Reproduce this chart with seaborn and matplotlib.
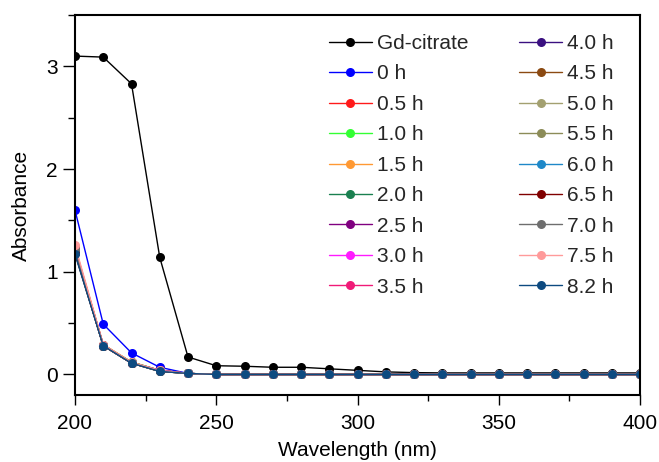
import numpy as np
import pandas as pd
import matplotlib
matplotlib.use("Agg")
import matplotlib.pyplot as plt
import seaborn as sns
from matplotlib.ticker import MultipleLocator

# Wavelength grid (nm)
wavelength = list(range(200, 401, 10))

# Absorbance of the Gd-citrate reference
gd_citrate = [3.10, 3.09, 2.83, 1.14, 0.17, 0.085, 0.08, 0.07, 0.07, 0.055,
              0.04, 0.025, 0.018, 0.015, 0.015, 0.015, 0.015, 0.015, 0.015, 0.015, 0.015]

# Absorbance at each reaction time
abs_0h = [1.60, 0.49, 0.21, 0.07, 0.01, 0, 0, 0, 0, 0, 0, 0, 0, 0, 0, 0, 0, 0, 0, 0, 0]
abs_05h = [1.24, 0.29, 0.12, 0.04, 0.01, 0, 0, 0, 0, 0, 0, 0, 0, 0, 0, 0, 0, 0, 0, 0, 0]
abs_10h = [1.22, 0.29, 0.12, 0.04, 0.01, 0, 0, 0, 0, 0, 0, 0, 0, 0, 0, 0, 0, 0, 0, 0, 0]
abs_15h = [1.23, 0.29, 0.12, 0.04, 0.01, 0, 0, 0, 0, 0, 0, 0, 0, 0, 0, 0, 0, 0, 0, 0, 0]
abs_20h = [1.21, 0.28, 0.12, 0.04, 0.01, 0, 0, 0, 0, 0, 0, 0, 0, 0, 0, 0, 0, 0, 0, 0, 0]
abs_25h = [1.22, 0.29, 0.11, 0.04, 0.01, 0, 0, 0, 0, 0, 0, 0, 0, 0, 0, 0, 0, 0, 0, 0, 0]
abs_30h = [1.20, 0.28, 0.11, 0.04, 0.01, 0, 0, 0, 0, 0, 0, 0, 0, 0, 0, 0, 0, 0, 0, 0, 0]
abs_35h = [1.21, 0.28, 0.11, 0.04, 0.01, 0, 0, 0, 0, 0, 0, 0, 0, 0, 0, 0, 0, 0, 0, 0, 0]
abs_40h = [1.19, 0.28, 0.11, 0.04, 0.01, 0, 0, 0, 0, 0, 0, 0, 0, 0, 0, 0, 0, 0, 0, 0, 0]
abs_45h = [1.20, 0.28, 0.11, 0.03, 0.01, 0, 0, 0, 0, 0, 0, 0, 0, 0, 0, 0, 0, 0, 0, 0, 0]
abs_50h = [1.19, 0.28, 0.11, 0.03, 0.01, 0, 0, 0, 0, 0, 0, 0, 0, 0, 0, 0, 0, 0, 0, 0, 0]
abs_55h = [1.18, 0.28, 0.11, 0.03, 0.01, 0, 0, 0, 0, 0, 0, 0, 0, 0, 0, 0, 0, 0, 0, 0, 0]
abs_60h = [1.19, 0.28, 0.11, 0.03, 0.01, 0, 0, 0, 0, 0, 0, 0, 0, 0, 0, 0, 0, 0, 0, 0, 0]
abs_65h = [1.18, 0.28, 0.11, 0.03, 0.01, 0, 0, 0, 0, 0, 0, 0, 0, 0, 0, 0, 0, 0, 0, 0, 0]
abs_70h = [1.22, 0.28, 0.11, 0.03, 0.01, 0, 0, 0, 0, 0, 0, 0, 0, 0, 0, 0, 0, 0, 0, 0, 0]
abs_75h = [1.26, 0.29, 0.12, 0.04, 0.01, 0, 0, 0, 0, 0, 0, 0, 0, 0, 0, 0, 0, 0, 0, 0, 0]
abs_82h = [1.17, 0.28, 0.11, 0.03, 0.01, 0, 0, 0, 0, 0, 0, 0, 0, 0, 0, 0, 0, 0, 0, 0, 0]

series_labels = ["Gd-citrate", "0 h", "0.5 h", "1.0 h", "1.5 h", "2.0 h", "2.5 h",
                 "3.0 h", "3.5 h", "4.0 h", "4.5 h", "5.0 h", "5.5 h", "6.0 h",
                 "6.5 h", "7.0 h", "7.5 h", "8.2 h"]
series_values = [gd_citrate, abs_0h, abs_05h, abs_10h, abs_15h, abs_20h, abs_25h,
                 abs_30h, abs_35h, abs_40h, abs_45h, abs_50h, abs_55h, abs_60h,
                 abs_65h, abs_70h, abs_75h, abs_82h]
series_colors = ["#000000", "#0000ff", "#ff1a1a", "#33ff33", "#ff9933", "#1a8050",
                 "#800080", "#ff1aff", "#f01a78", "#3a1080", "#8b4a12", "#a3a070",
                 "#8c8c58", "#1e88c8", "#800000", "#6e6e6e", "#ff9a9a", "#0d4a80"]

sns.set_theme(style="ticks")
plt.rcParams["font.family"] = ["Liberation Sans", "DejaVu Sans"]

FS = 15

fig = plt.figure(figsize=(6.59, 4.62), dpi=100)
ax = fig.add_axes([75 / 659, 1 - 395 / 462, 565 / 659, 380 / 462])

for label, values, color in zip(series_labels, series_values, series_colors):
    df = pd.DataFrame({"Wavelength": wavelength, "Absorbance": values})
    sns.lineplot(data=df, x="Wavelength", y="Absorbance", ax=ax, color=color,
                 marker="o", markersize=6.5, markeredgewidth=0, linewidth=1.0,
                 label=label, sort=False)

ax.set_xlim(200, 400)
ax.set_ylim(-0.2, 3.5)
ax.xaxis.set_major_locator(MultipleLocator(50))
ax.xaxis.set_minor_locator(MultipleLocator(25))
ax.yaxis.set_major_locator(MultipleLocator(1))
ax.yaxis.set_minor_locator(MultipleLocator(0.5))

for side in ["left", "bottom", "top", "right"]:
    ax.spines[side].set_visible(True)
    ax.spines[side].set_color("black")
    ax.spines[side].set_linewidth(1.5)

ax.tick_params(top=False, right=False, which="both")
ax.tick_params(axis="x", which="major", direction="out", length=7.5, width=1,
               color="black", labelsize=FS, labelcolor="black", pad=6)
ax.tick_params(axis="y", which="major", direction="out", length=8.5, width=1,
               color="black", labelsize=FS, labelcolor="black", pad=4)
ax.tick_params(axis="x", which="minor", direction="out", length=4, width=1,
               color="black")
ax.tick_params(axis="y", which="minor", direction="out", length=5, width=1,
               color="black")

ax.set_xlabel("Wavelength (nm)", fontsize=FS, color="black", labelpad=6)
ax.set_ylabel("Absorbance", fontsize=FS, color="black", labelpad=11)

ax.legend(ncol=2, frameon=False, fontsize=FS, loc="upper left",
          bbox_to_anchor=((329 - 75) / 565, (395 - 34) / 380),
          borderaxespad=0, borderpad=0, handlelength=2.05, handletextpad=0.25,
          columnspacing=2.45, labelspacing=0.55, markerscale=1.0)

fig.savefig("out.png", dpi=100)
